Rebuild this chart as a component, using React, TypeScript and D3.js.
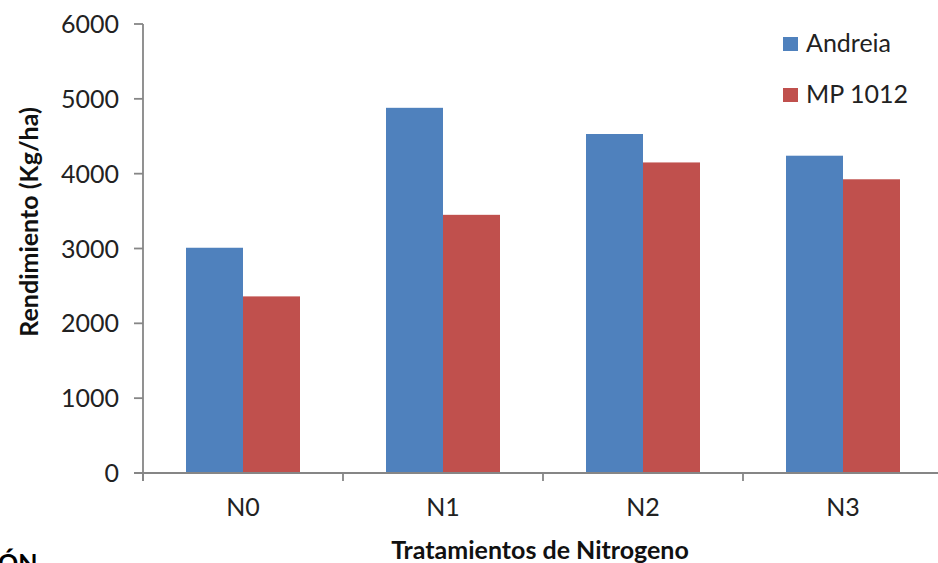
import React, { useEffect, useRef } from "react";
import * as d3 from "d3";

const categories = ["N0", "N1", "N2", "N3"];
const seriesNames = ["Andreia", "MP 1012"];
const andreia = [3010, 4880, 4530, 4240];
const mp1012 = [2360, 3450, 4150, 3925];
const yTicks = [0, 1000, 2000, 3000, 4000, 5000, 6000];
const colors = ["#4F81BD", "#C0504D"];

const W = 938;
const H = 563;
const FONT = "Lato, 'Open Sans', sans-serif";
const FS = 25;

export default function App() {
  const ref = useRef<SVGSVGElement>(null);

  useEffect(() => {
    const svg = d3.select(ref.current);
    svg.selectAll("*").remove();

    const left = 143;
    const right = 943;
    const top = 24;
    const bottom = 473;

    const x = d3.scaleBand<string>().domain(categories).range([left, right]).paddingInner(0).paddingOuter(0);
    const bw = x.bandwidth();
    const inner = d3.scaleBand<string>().domain(seriesNames).range([bw * 0.215, bw * 0.785]).paddingInner(0).paddingOuter(0);
    const y = d3.scaleLinear().domain([0, 6000]).range([bottom, top]);

    const values = [andreia, mp1012];
    const g = svg.append("g");

    seriesNames.forEach((s, si) => {
      g.selectAll(null)
        .data(categories)
        .enter()
        .append("rect")
        .attr("x", (c) => (x(c) as number) + (inner(s) as number))
        .attr("y", (c, i) => y(values[si][i]))
        .attr("width", inner.bandwidth())
        .attr("height", (c, i) => bottom - y(values[si][i]))
        .attr("fill", colors[si]);
    });

    const axisColor = "#868686";
    g.append("line").attr("x1", left).attr("x2", left).attr("y1", top).attr("y2", bottom + 8)
      .attr("stroke", axisColor).attr("stroke-width", 1.8);
    g.selectAll(null).data(yTicks).enter().append("line")
      .attr("x1", left - 9).attr("x2", left).attr("y1", (d) => y(d)).attr("y2", (d) => y(d))
      .attr("stroke", axisColor).attr("stroke-width", 1.8);
    g.selectAll(null).data(yTicks).enter().append("text")
      .attr("x", left - 24).attr("y", (d) => y(d)).attr("dy", "0.36em")
      .attr("text-anchor", "end").attr("font-family", FONT).attr("font-size", FS)
      .attr("fill", "#222").text((d) => String(d));

    g.append("line").attr("x1", left - 9).attr("x2", right).attr("y1", bottom).attr("y2", bottom)
      .attr("stroke", axisColor).attr("stroke-width", 1.8);
    const xTickPos = categories.map((c) => x(c) as number).concat([right]);
    g.selectAll(null).data(xTickPos).enter().append("line")
      .attr("x1", (d) => d).attr("x2", (d) => d).attr("y1", bottom).attr("y2", bottom + 8)
      .attr("stroke", axisColor).attr("stroke-width", 1.8);
    g.selectAll(null).data(categories).enter().append("text")
      .attr("x", (c) => (x(c) as number) + x.bandwidth() / 2).attr("y", 516)
      .attr("text-anchor", "middle").attr("font-family", FONT).attr("font-size", FS)
      .attr("fill", "#222").text((c) => c);

    g.append("text")
      .attr("transform", `translate(38, 222) rotate(-90)`)
      .attr("text-anchor", "middle").attr("font-family", FONT).attr("font-weight", "bold")
      .attr("font-size", FS).attr("fill", "#111").text("Rendimiento (Kg/ha)");
    g.append("text")
      .attr("x", 540).attr("y", 559)
      .attr("text-anchor", "middle").attr("font-family", FONT).attr("font-weight", "bold")
      .attr("font-size", FS).attr("fill", "#111").text("Tratamientos de Nitrogeno");
    g.append("text")
      .attr("x", -2).attr("y", 572)
      .attr("font-family", FONT).attr("font-weight", "bold")
      .attr("font-size", FS).attr("fill", "#000").text("ÓN");

    const legY = [37, 88];
    seriesNames.forEach((s, i) => {
      g.append("rect").attr("x", 783).attr("y", legY[i]).attr("width", 15).attr("height", 14).attr("fill", colors[i]);
      g.append("text").attr("x", 806).attr("y", legY[i] + 15)
        .attr("font-family", FONT).attr("font-size", FS).attr("fill", "#222").text(s);
    });
  }, []);

  return (
    <div style={{ position: "absolute", left: 0, top: 0 }}>
      <svg ref={ref} width={W} height={H} style={{ display: "block", background: "#fff" }} />
    </div>
  );
}
